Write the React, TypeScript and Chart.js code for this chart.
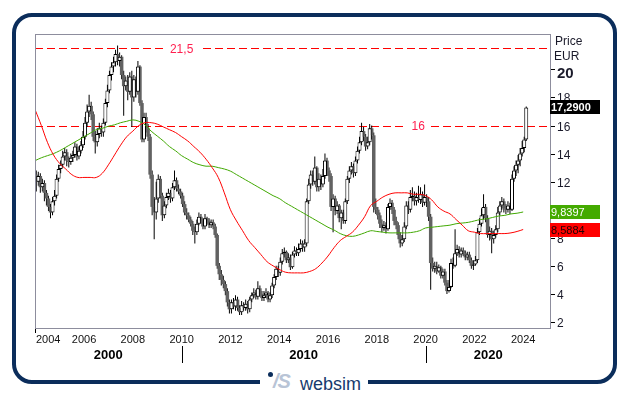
import React, { useEffect, useRef } from "react";
import { Chart, registerables } from "chart.js";

Chart.register(...registerables);

// ---------- DATA (monthly candles, Jan 2004 .. Feb 2024) ----------
const START_YEAR = 2004;
const FIRST_OPEN = 12.5;

const closes = [
  12.0, 12.4, 11.6, 11.9, 11.2, 10.8, 10.2, 9.8, 10.6, 11.0, 12.2, 12.9,
  13.2, 13.8, 14.1, 13.5, 13.4, 13.7, 13.9, 14.5, 13.8, 14.2, 14.6, 15.2,
  16.2, 17.0, 17.4, 16.8, 15.2, 14.8, 15.4, 15.8, 15.5, 16.2, 17.6, 18.5,
  19.6, 20.2, 20.5, 21.1, 20.6, 20.9, 19.6, 18.8, 19.2, 18.4, 19.5, 18.0,
  19.3, 18.4, 20.2, 17.6, 15.0, 16.6, 15.8, 15.2, 12.5, 10.2, 9.8, 10.8,
  12.2, 11.0, 9.6, 10.3, 10.9, 11.2, 10.8, 11.6, 12.1, 11.5, 11.3, 11.0,
  10.4, 9.8, 9.6, 9.3, 9.0, 8.5, 8.4, 9.0, 9.5, 9.2, 8.8, 9.4,
  9.2, 8.9, 9.1, 8.8, 8.2, 6.0, 5.4, 5.0, 4.7, 4.2, 3.4, 2.9,
  3.4, 3.1, 3.6, 3.0, 2.7, 3.2, 3.0, 3.3, 2.9, 3.6, 3.9, 4.1,
  3.8, 4.4, 4.0, 3.7, 3.9, 4.1, 3.6, 3.9, 4.6, 5.2, 5.8, 5.5,
  6.3, 6.9, 7.0, 6.4, 6.6, 5.9, 6.8, 7.1, 6.9, 7.2, 7.6, 7.3,
  7.6, 10.6, 11.8, 12.5, 12.0, 13.0, 11.6, 12.2, 11.8, 12.4, 13.5, 12.8,
  12.4, 10.2, 10.8, 9.9, 10.3, 9.4, 9.8, 9.2, 10.6, 12.2, 12.8, 13.1,
  12.6, 13.5, 14.2, 14.8, 15.6, 15.2, 14.5, 14.8, 15.8, 15.3, 10.2, 10.0,
  9.6, 9.0, 8.7, 8.9, 8.6, 10.2, 10.5, 10.0, 9.2, 8.9, 8.2, 7.6,
  7.9, 8.8, 10.3, 10.0, 10.9, 11.0, 10.6, 10.9, 10.7, 11.1, 10.5, 10.9,
  10.6, 9.5, 6.2, 5.8, 6.0, 5.6, 5.9, 5.3, 5.6, 4.8, 4.2, 4.5,
  6.2, 6.0, 6.9, 7.2, 6.8, 7.1, 6.9, 6.6, 6.8, 6.4, 6.0, 6.1,
  6.4, 8.4, 9.0, 9.6, 10.2, 9.4, 8.2, 8.5, 7.9, 8.2, 8.6, 9.8,
  10.3, 10.6, 10.1, 10.0, 10.3, 10.0, 12.2, 12.8, 13.2, 13.5, 14.0, 14.4,
  15.0, 17.29,
];

const highs = [
  12.8, 12.7, 12.6, 12.2, 12.1, 11.4, 11.0, 10.4, 10.9, 11.4, 12.5, 13.2,
  13.5, 14.2, 14.4, 14.3, 13.8, 14.0, 14.2, 14.8, 14.7, 14.5, 14.9, 15.6,
  16.6, 17.5, 18.2, 17.7, 17.0, 15.6, 15.8, 16.2, 16.0, 16.5, 17.9, 18.9,
  19.9, 20.5, 20.9, 21.4, 21.7, 21.2, 21.0, 19.9, 19.5, 19.6, 19.8, 19.9,
  19.6, 19.5, 20.6, 20.3, 17.8, 16.9, 16.9, 16.1, 15.4, 12.8, 10.9, 12.0,
  12.5, 12.4, 11.2, 10.6, 11.2, 11.5, 11.4, 11.9, 12.8, 12.3, 11.8, 11.5,
  11.2, 10.6, 10.1, 9.8, 9.5, 9.2, 8.8, 9.3, 9.8, 9.7, 9.4, 9.7,
  9.5, 9.4, 9.3, 9.3, 9.0, 8.3, 6.2, 5.7, 5.3, 4.9, 4.4, 3.6,
  3.6, 3.7, 3.9, 3.8, 3.2, 3.5, 3.4, 3.6, 3.5, 3.8, 4.1, 4.4,
  4.3, 4.9, 4.6, 4.2, 4.2, 4.4, 4.2, 4.1, 4.8, 5.4, 6.0, 6.0,
  6.6, 7.2, 7.3, 7.1, 6.9, 6.8, 7.0, 7.4, 7.3, 7.6, 7.9, 7.8,
  7.9, 10.8, 12.2, 12.8, 12.8, 13.8, 13.1, 12.6, 12.5, 12.9, 14.0, 13.7,
  13.0, 12.6, 11.1, 11.0, 10.6, 10.4, 10.0, 10.0, 10.8, 12.4, 13.1, 13.4,
  13.3, 13.8, 14.5, 15.2, 16.2, 15.9, 15.4, 15.2, 16.1, 16.0, 15.5, 10.8,
  10.2, 9.8, 9.3, 9.2, 9.1, 10.4, 10.8, 10.7, 10.2, 9.5, 9.1, 8.4,
  8.2, 9.1, 10.6, 10.6, 11.4, 11.6, 11.3, 11.2, 11.7, 11.6, 11.3, 11.8,
  11.1, 10.9, 9.7, 6.6, 6.3, 6.3, 6.1, 6.0, 5.8, 5.8, 5.0, 5.0,
  6.5, 6.6, 8.6, 7.5, 7.4, 7.3, 7.3, 7.1, 7.0, 7.0, 6.6, 6.4,
  6.7, 8.7, 9.4, 10.1, 11.1, 10.4, 9.6, 8.8, 8.7, 8.5, 8.9, 10.2,
  10.6, 10.9, 10.8, 10.4, 10.6, 10.5, 12.5, 13.1, 13.5, 13.9, 14.4, 14.9,
  15.2, 17.35,
];

const lows = [
  11.3, 11.7, 11.2, 11.3, 10.6, 10.3, 9.9, 9.4, 9.6, 10.3, 10.8, 12.0,
  12.6, 13.0, 13.5, 13.1, 13.0, 13.2, 13.4, 13.7, 13.5, 13.6, 14.0, 14.4,
  15.0, 15.9, 16.6, 16.4, 14.9, 14.0, 14.5, 15.1, 15.2, 15.2, 16.0, 17.3,
  18.3, 19.2, 19.8, 20.2, 20.3, 20.2, 19.3, 16.7, 18.5, 17.8, 18.2, 15.9,
  17.7, 18.0, 18.2, 17.4, 14.8, 14.8, 15.5, 14.9, 12.2, 9.6, 7.9, 9.3,
  10.5, 10.8, 9.2, 9.4, 10.1, 10.7, 10.5, 10.6, 11.4, 11.3, 11.1, 10.8,
  10.2, 9.6, 9.3, 9.1, 8.8, 8.2, 7.6, 8.2, 8.9, 9.0, 8.6, 8.6,
  9.0, 8.7, 8.7, 8.6, 8.0, 5.8, 5.0, 4.6, 4.4, 3.9, 3.1, 2.6,
  2.6, 2.9, 2.8, 2.8, 2.5, 2.5, 2.8, 2.8, 2.6, 2.7, 3.4, 3.7,
  3.6, 3.6, 3.8, 3.5, 3.5, 3.7, 3.4, 3.4, 3.7, 4.4, 5.0, 5.2,
  5.3, 6.1, 6.6, 6.2, 6.2, 5.7, 5.8, 6.6, 6.7, 6.7, 7.0, 7.0,
  7.0, 7.4, 10.4, 11.5, 11.7, 11.8, 11.3, 11.3, 11.4, 11.6, 12.2, 12.4,
  12.0, 9.9, 8.4, 9.6, 9.7, 9.1, 8.6, 9.0, 9.0, 10.4, 11.9, 12.5,
  12.3, 12.4, 13.3, 14.0, 14.6, 14.9, 14.2, 14.3, 14.6, 15.0, 9.8, 9.7,
  9.3, 8.7, 8.4, 8.5, 8.3, 8.5, 10.0, 9.7, 8.9, 8.6, 7.9, 7.3,
  7.4, 7.7, 8.6, 9.7, 9.8, 10.6, 10.3, 10.3, 10.5, 10.4, 10.2, 10.3,
  10.2, 9.2, 4.3, 5.6, 5.5, 5.4, 5.5, 5.1, 5.1, 4.6, 4.0, 4.1,
  4.4, 5.8, 5.9, 6.7, 6.6, 6.6, 6.7, 6.4, 6.4, 6.2, 5.8, 5.7,
  6.0, 6.2, 8.2, 8.8, 9.3, 9.1, 8.0, 7.8, 6.9, 7.6, 8.0, 8.4,
  9.6, 10.0, 9.8, 9.7, 9.8, 9.7, 9.9, 12.0, 12.4, 12.6, 13.1, 13.8,
  14.1, 14.9,
];

// moving averages, quarterly readings from 2004.0 to 2024.0
const MA_START = 2004;
const MA_STEP = 0.25;
const redMA = [
  17.1, 16.0, 14.8, 13.9,
  13.3, 12.9, 12.5, 12.3,
  12.3, 12.3, 12.3, 12.6,
  13.2, 13.9, 14.6, 15.2,
  15.6, 16.0, 16.2, 16.2,
  16.1, 15.9, 15.7, 15.5,
  15.2, 14.9, 14.5, 14.1,
  13.6, 13.0, 12.3, 11.2,
  10.0, 9.2, 8.5, 7.8,
  7.3, 6.8, 6.3, 6.0,
  5.75, 5.55, 5.5, 5.5,
  5.5, 5.6, 5.8, 6.2,
  6.7, 7.3, 7.8, 8.1,
  8.4, 8.9, 9.5, 10.3,
  10.6, 10.9, 11.1, 11.2,
  11.2, 11.2, 11.1, 11.1,
  11.0, 10.7, 10.2, 9.9,
  9.7, 9.3, 8.9, 8.5,
  8.4, 8.3, 8.3, 8.3,
  8.3, 8.3, 8.35, 8.45,
  8.59,
];
const greenMA = [
  13.5, 13.7, 13.85, 14.0,
  14.2, 14.45, 14.7, 14.95,
  15.2, 15.45, 15.7, 15.8,
  15.95, 16.05, 16.2, 16.3,
  16.4, 16.3, 16.05, 15.6,
  15.25, 14.9, 14.5, 14.2,
  13.85, 13.6, 13.35, 13.2,
  13.1, 13.1, 13.0, 12.9,
  12.75, 12.5, 12.25, 12.0,
  11.75, 11.5, 11.25, 11.0,
  10.8, 10.5, 10.25, 10.0,
  9.75, 9.5, 9.25, 9.0,
  8.75, 8.55, 8.3, 8.15,
  8.1, 8.2, 8.35, 8.5,
  8.45, 8.4, 8.35, 8.35,
  8.35, 8.35, 8.4, 8.5,
  8.7, 8.75, 8.8, 8.85,
  8.9, 9.0, 9.05, 9.1,
  9.2, 9.3, 9.35, 9.45,
  9.55, 9.6, 9.7, 9.75,
  9.84,
];

const levels = [21.5, 16];
const levelLabels = ["21,5", "16"];
const levelLabelYears = [2010.0, 2019.7];

const xTickYears = [2004, 2006, 2008, 2010, 2012, 2014, 2016, 2018, 2020, 2022, 2024];
const decadeStarts = [2000, 2010, 2020];
const decadeLabels = ["2000", "2010", "2020"];
const yTicks = [2, 4, 6, 8, 10, 12, 14, 16, 18, 20];

const lastPrice = 17.29;
const lastPriceLabel = "17,2900";
const greenLast = 9.8397;
const greenLastLabel = "9,8397";
const redLast = 8.5884;
const redLastLabel = "8,5884";

const FONT = '"Liberation Sans", Arial, Helvetica, sans-serif';

const overlay = {
  id: "overlay",
  beforeDatasetsDraw(chart: any) {
    const { ctx, chartArea: a, scales } = chart;
    const x = scales.x;
    const y = scales.y;
    ctx.save();
    ctx.strokeStyle = "#ff0000";
    ctx.lineWidth = 1;
    ctx.setLineDash([8, 4]);
    levels.forEach((lv) => {
      const py = Math.round(y.getPixelForValue(lv)) + 0.5;
      ctx.beginPath();
      ctx.moveTo(a.left, py);
      ctx.lineTo(a.right, py);
      ctx.stroke();
    });
    ctx.setLineDash([]);
    ctx.font = `12px ${FONT}`;
    ctx.textAlign = "center";
    ctx.textBaseline = "middle";
    levels.forEach((lv, i) => {
      const py = y.getPixelForValue(lv);
      const px = x.getPixelForValue(levelLabelYears[i]);
      const w = ctx.measureText(levelLabels[i]).width + 12;
      ctx.fillStyle = "#ffffff";
      ctx.fillRect(px - w / 2, py - 6, w, 12);
      ctx.fillStyle = "#ff1f4f";
      ctx.fillText(levelLabels[i], px, py + 1);
    });
    ctx.restore();
  },
  afterDraw(chart: any) {
    const { ctx, chartArea: a, scales } = chart;
    const x = scales.x;
    const y = scales.y;
    ctx.save();
    // plot frame
    ctx.strokeStyle = "#8d8d9d";
    ctx.lineWidth = 1;
    ctx.strokeRect(a.left + 0.5, a.top + 0.5, a.right - a.left - 1, a.bottom - a.top - 1);

    // y ticks
    ctx.textAlign = "left";
    ctx.textBaseline = "middle";
    yTicks.forEach((v) => {
      const py = Math.round(y.getPixelForValue(v)) + 0.5;
      ctx.strokeStyle = "#000";
      ctx.beginPath();
      ctx.moveTo(a.right, py);
      ctx.lineTo(a.right + 4, py);
      ctx.stroke();
      const major = v === 20;
      ctx.font = major ? `bold 15px ${FONT}` : `12px ${FONT}`;
      ctx.fillStyle = "#1a1a2a";
      ctx.fillText(String(v), a.right + 6, py + (major ? 4 : 1));
    });
    ctx.font = `12px ${FONT}`;
    ctx.fillStyle = "#1a1a2a";
    ctx.fillText("Price", a.right + 4, 42);
    ctx.fillText("EUR", a.right + 3, 57);

    // value boxes
    const box = (val: number, label: string, bg: string, fg: string, bold: boolean) => {
      const py = y.getPixelForValue(val);
      ctx.fillStyle = bg;
      ctx.fillRect(a.right - 1, Math.round(py - 7), 50, 14);
      ctx.fillStyle = fg;
      ctx.font = `${bold ? "bold " : ""}11px ${FONT}`;
      ctx.textAlign = "left";
      ctx.fillText(label, a.right, Math.round(py) + 0.5);
    };
    box(lastPrice, lastPriceLabel, "#000000", "#ffffff", true);
    box(greenLast, greenLastLabel, "#44aa00", "#ffffff", false);
    box(redLast, redLastLabel, "#ff0000", "#220000", false);

    // x ticks
    ctx.font = `11px ${FONT}`;
    ctx.fillStyle = "#111";
    ctx.textAlign = "center";
    ctx.textBaseline = "middle";
    xTickYears.forEach((yr) => {
      let px = x.getPixelForValue(yr);
      const w = ctx.measureText(String(yr)).width;
      px = Math.max(px, a.left + w / 2 + 1);
      ctx.fillText(String(yr), px, 340);
    });
    ctx.strokeStyle = "#000";
    ctx.beginPath();
    ctx.moveTo(a.left + 0.5, a.bottom);
    ctx.lineTo(a.left + 0.5, a.bottom + 4);
    ctx.stroke();

    // decades
    ctx.font = `bold 13px ${FONT}`;
    ctx.fillStyle = "#000";
    decadeStarts.forEach((d, i) => {
      const x0 = Math.max(a.left, x.getPixelForValue(d));
      const x1 = Math.min(a.right, x.getPixelForValue(d + 10));
      ctx.fillText(decadeLabels[i], (x0 + x1) / 2, 355);
      if (d > x.min) {
        const sx = Math.round(x.getPixelForValue(d)) + 0.5;
        ctx.beginPath();
        ctx.moveTo(sx, 346);
        ctx.lineTo(sx, 363);
        ctx.stroke();
      }
    });
    ctx.restore();
  },
};

export default function App() {
  const ref = useRef<HTMLCanvasElement>(null);

  useEffect(() => {
    if (!ref.current) return;
    const wick: any[] = [];
    const up: any[] = [];
    const down: any[] = [];
    for (let i = 0; i < closes.length; i++) {
      const o = i === 0 ? FIRST_OPEN : closes[i - 1];
      const c = closes[i];
      const t = START_YEAR + (i + 0.5) / 12;
      const hi = Math.max(highs[i], o, c);
      const lo = Math.min(lows[i], o, c);
      wick.push({ x: t, y: [lo, hi] });
      const body = { x: t, y: [Math.min(o, c), Math.max(o, c)] };
      if (c >= o) up.push(body);
      else down.push(body);
    }
    const redPts = redMA.map((v, j) => ({ x: MA_START + j * MA_STEP, y: v }));
    const greenPts = greenMA.map((v, j) => ({ x: MA_START + j * MA_STEP, y: v }));

    const chart = new Chart(ref.current, {
      type: "bar",
      data: {
        datasets: [
          {
            type: "line",
            data: redPts,
            borderColor: "#ff0000",
            borderWidth: 1,
            pointRadius: 0,
            tension: 0.4,
            order: 0,
          } as any,
          {
            type: "line",
            data: greenPts,
            borderColor: "#40a800",
            borderWidth: 1,
            pointRadius: 0,
            tension: 0.4,
            order: 0,
          } as any,
          {
            type: "bar",
            data: up,
            backgroundColor: "#ffffff",
            borderColor: "#000000",
            borderWidth: 1,
            borderSkipped: false,
            barThickness: 4,
            grouped: false,
            inflateAmount: 0,
            order: 1,
          } as any,
          {
            type: "bar",
            data: down,
            backgroundColor: "#626262",
            borderWidth: 0,
            barThickness: 3.5,
            grouped: false,
            inflateAmount: 0,
            order: 2,
          } as any,
          {
            type: "bar",
            data: wick,
            backgroundColor: "#000000",
            borderWidth: 0,
            barThickness: 1,
            grouped: false,
            inflateAmount: 0,
            order: 3,
          } as any,
        ],
      },
      options: {
        animation: false,
        responsive: false,
        devicePixelRatio: 1,
        events: [],
        layout: { padding: { left: 35, top: 34, right: 78, bottom: 66 } },
        plugins: { legend: { display: false }, tooltip: { enabled: false } },
        scales: {
          x: { type: "linear", display: false, min: 2003.99, max: 2025.14, offset: false },
          y: { type: "linear", display: false, min: 1.5, max: 22.52 },
        },
      } as any,
      plugins: [overlay as any],
    });
    return () => chart.destroy();
  }, []);

  return (
    <div
      style={{
        position: "absolute",
        left: 0,
        top: 0,
        width: 629,
        height: 395,
        background: "#ffffff",
        overflow: "hidden",
      }}
    >
      <div
        style={{
          position: "absolute",
          left: 12,
          top: 13,
          width: 605,
          height: 371,
          border: "4px solid #0b2d5b",
          borderRadius: 20,
          boxSizing: "border-box",
        }}
      />
      <canvas
        ref={ref}
        width={629}
        height={395}
        style={{ position: "absolute", left: 0, top: 0, width: 629, height: 395 }}
      />
      <div
        style={{
          position: "absolute",
          left: 260,
          top: 368,
          width: 108,
          height: 26,
          background: "#ffffff",
        }}
      >
        <div
          style={{
            position: "absolute",
            left: 8,
            top: 4,
            width: 5,
            height: 5,
            borderRadius: "50%",
            background: "#0b2d5b",
          }}
        />
        <span
          style={{
            position: "absolute",
            left: 13,
            top: 3,
            fontFamily: FONT,
            fontStyle: "italic",
            fontWeight: "bold",
            fontSize: 20,
            lineHeight: "20px",
            color: "#b8c4d6",
            letterSpacing: -1,
          }}
        >
          /S
        </span>
        <span
          style={{
            position: "absolute",
            left: 40,
            top: 7,
            fontFamily: FONT,
            fontSize: 18,
            lineHeight: "18px",
            color: "#163a6e",
          }}
        >
          websim
        </span>
      </div>
    </div>
  );
}
